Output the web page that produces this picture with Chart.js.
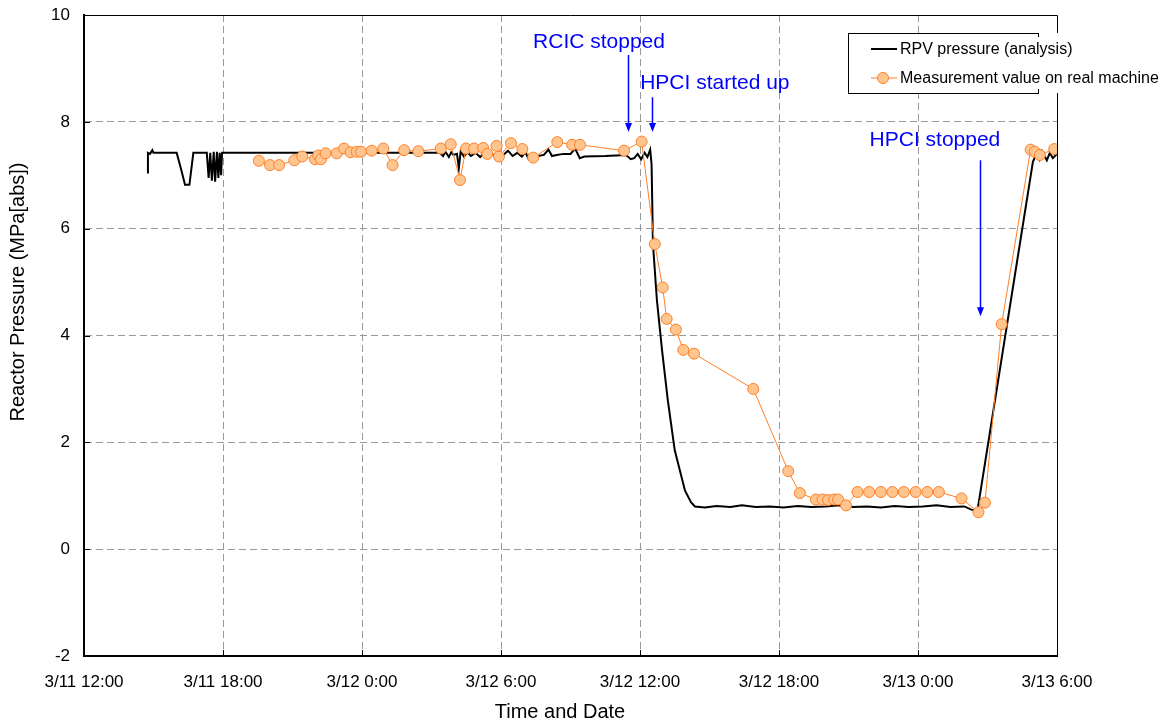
<!DOCTYPE html>
<html lang="en">
  <head>
    <meta charset="UTF-8" />
    <title>Reactor Pressure</title>
    <script src="https://cdn.jsdelivr.net/npm/chart.js"></script>
    <style>
      * {
        margin: 0;
        padding: 0;
        box-sizing: border-box;
      }
      body {
        background: #fff;
        width: 1170px;
        height: 727px;
        overflow: hidden;
      }
    </style>
  </head>
  <body>
    <canvas id="pressureChart" width="1170" height="727"></canvas>

    <script>
      // hours counted from 3/11 12:00
      const tickLabels = ["3/11 12:00", "3/11 18:00", "3/12 0:00", "3/12 6:00", "3/12 12:00", "3/12 18:00", "3/13 0:00", "3/13 6:00"];

      // RPV pressure (analysis)
      const analysisHours = [
        2.72, 2.76, 2.85, 2.95, 3.0, 4.0, 4.2, 4.36, 4.55, 4.72, 5.3, 5.38, 5.45, 5.52, 5.6, 5.66, 5.74, 5.8, 5.86, 5.92, 5.96,
        15.36, 15.5, 15.6, 15.75, 15.85, 15.95, 16.1, 16.18, 16.26, 16.4, 16.55, 16.7, 16.9, 17.1, 17.3, 17.5, 17.7, 17.9,
        18.1, 18.3, 18.5, 18.7, 18.9, 19.05, 19.2, 19.4, 19.6, 19.85, 20.05, 20.2, 20.4, 20.7, 21.0, 21.2, 21.4, 21.6, 22.5,
        23.4, 23.6, 23.75, 23.9, 24.05, 24.2, 24.32, 24.44, 24.5, 24.56, 24.73, 24.95, 25.2, 25.5, 25.94, 26.2, 26.37,
        26.8, 27.3, 27.9, 28.4, 29.0, 29.6, 30.2, 30.8, 31.4, 32.0, 32.6, 33.2, 33.8, 34.4, 35.0, 35.6, 36.2, 36.8, 37.4,
        38.0, 38.3, 38.45, 38.58, 40.96, 41.13, 41.25, 41.35, 41.56, 41.69, 41.82, 42.0, 42.15
      ];
      const analysisValues = [
        7.05, 7.42, 7.4, 7.47, 7.42, 7.42, 7.1, 6.82, 6.82, 7.42, 7.42, 6.95, 7.42, 6.9, 7.44, 6.88, 7.44, 6.95, 7.42, 7.0, 7.42,
        7.42, 7.36, 7.44, 7.34, 7.43, 7.38, 7.4, 7.13, 7.45, 7.35, 7.43, 7.36, 7.42, 7.34, 7.44, 7.4, 7.38, 7.44,
        7.38, 7.46, 7.36, 7.42, 7.35, 7.43, 7.3, 7.33, 7.36, 7.38, 7.48, 7.36, 7.38, 7.4, 7.4, 7.5, 7.32, 7.35, 7.36,
        7.38, 7.3, 7.32, 7.4, 7.3, 7.42, 7.34, 7.48, 7.2, 5.71, 4.66, 3.73, 2.79, 1.85, 1.1, 0.88, 0.8,
        0.78, 0.81, 0.79, 0.82, 0.79, 0.8, 0.78, 0.81, 0.79, 0.8, 0.82, 0.79, 0.8, 0.78, 0.81, 0.79, 0.8, 0.82, 0.79,
        0.8, 0.74, 0.73, 0.76, 7.25, 7.42, 7.3, 7.45, 7.28, 7.42, 7.32, 7.4, 7.28
      ];

      // Measurement value on real machine
      const measuredHours = [
        7.55, 8.03, 8.42, 9.08, 9.42, 9.97, 10.11, 10.23, 10.43, 10.91, 11.23, 11.51, 11.77, 11.96, 12.42, 12.92, 13.32,
        13.82, 14.43, 15.4, 15.83, 16.23, 16.49, 16.84, 17.23, 17.41, 17.81, 17.91, 18.43, 18.92, 19.39, 20.43, 21.07,
        21.41, 23.31, 24.07, 24.64, 24.98, 25.15, 25.55, 25.87, 26.33, 28.89, 30.4, 30.9, 31.59, 31.88, 32.12, 32.38,
        32.55, 32.89, 33.39, 33.89, 34.4, 34.89, 35.39, 35.9, 36.4, 36.9, 37.88, 38.61, 38.89, 39.61, 40.86, 41.04,
        41.26, 41.88
      ];
      const measuredValues = [
        7.27, 7.19, 7.19, 7.28, 7.35, 7.3, 7.37, 7.3, 7.41, 7.41, 7.5, 7.43, 7.44, 7.44, 7.46, 7.5, 7.19,
        7.47, 7.45, 7.5, 7.58, 6.91, 7.5, 7.5, 7.51, 7.4, 7.55, 7.35, 7.6, 7.49, 7.33, 7.62, 7.57,
        7.57, 7.46, 7.63, 5.71, 4.9, 4.31, 4.11, 3.73, 3.66, 3.0, 1.46, 1.05, 0.93, 0.93, 0.92, 0.93,
        0.93, 0.82, 1.07, 1.07, 1.07, 1.07, 1.07, 1.07, 1.07, 1.07, 0.95, 0.69, 0.87, 4.21, 7.48, 7.44,
        7.38, 7.49
      ];

      // event notes: label, text anchor (h, v), arrow start and tip (h, v)
      const notes = [
        { text: "RCIC stopped", x: 22.23, y: 9.49, ax: 23.48, ay0: 9.25, ay1: 7.81 },
        { text: "HPCI started up", x: 27.23, y: 8.73, ax: 24.51, ay0: 8.46, ay1: 7.81 },
        { text: "HPCI stopped", x: 36.73, y: 7.66, ax: 38.67, ay0: 7.28, ay1: 4.36 },
      ];

      const FONT = "'Liberation Sans', Arial, sans-serif";
      const ORANGE = "#FF7F27";
      const PEACH = "#FFC58F";
      const GRID = "#9a9a9a";

      const toPoints = (xs, ys) => xs.map((h, i) => ({ x: h, y: ys[i] }));

      const overlay = {
        id: "overlay",
        afterDraw(chart) {
          const { ctx, chartArea: a, scales } = chart;
          const xs = scales.x;
          const ys = scales.y;
          ctx.save();

          // top and right frame
          ctx.strokeStyle = "#000";
          ctx.lineWidth = 1;
          ctx.beginPath();
          ctx.moveTo(a.left, a.top + 0.5);
          ctx.lineTo(a.right + 0.5, a.top + 0.5);
          ctx.lineTo(a.right + 0.5, a.bottom);
          ctx.stroke();

          // inward tick marks
          ctx.beginPath();
          for (let h = 6; h < 42; h += 6) {
            const px = Math.round(xs.getPixelForValue(h)) + 0.5;
            ctx.moveTo(px, a.bottom);
            ctx.lineTo(px, a.bottom - 6);
          }
          for (let v = 0; v <= 8; v += 2) {
            const py = Math.round(ys.getPixelForValue(v)) + 0.5;
            ctx.moveTo(a.left, py);
            ctx.lineTo(a.left + 6, py);
          }
          ctx.stroke();

          // axis titles
          ctx.fillStyle = "#000";
          ctx.font = "20px " + FONT;
          ctx.textAlign = "center";
          ctx.textBaseline = "middle";
          ctx.fillText("Time and Date", 560, 712);
          ctx.save();
          ctx.translate(18, 292);
          ctx.rotate(-Math.PI / 2);
          ctx.fillText("Reactor Pressure (MPa[abs])", 0, 0);
          ctx.restore();

          // event notes with arrows
          ctx.fillStyle = "#0000FF";
          ctx.strokeStyle = "#0000FF";
          ctx.lineWidth = 1.5;
          ctx.font = "21px " + FONT;
          notes.forEach((n) => {
            ctx.fillText(n.text, xs.getPixelForValue(n.x), ys.getPixelForValue(n.y));
            const ax = Math.round(xs.getPixelForValue(n.ax)) + 0.5;
            const y0 = ys.getPixelForValue(n.ay0);
            const y1 = ys.getPixelForValue(n.ay1);
            ctx.beginPath();
            ctx.moveTo(ax, y0);
            ctx.lineTo(ax, y1 - 8);
            ctx.stroke();
            ctx.beginPath();
            ctx.moveTo(ax - 3.5, y1 - 9);
            ctx.lineTo(ax + 3.5, y1 - 9);
            ctx.lineTo(ax, y1);
            ctx.closePath();
            ctx.fill();
          });

          // legend box
          ctx.fillStyle = "#fff";
          ctx.fillRect(848, 33, 317, 60);
          ctx.strokeStyle = "#000";
          ctx.lineWidth = 1;
          ctx.strokeRect(848.5, 33.5, 190, 60);
          ctx.fillRect(1030, 37, 135, 52);

          ctx.lineWidth = 2;
          ctx.beginPath();
          ctx.moveTo(871, 49);
          ctx.lineTo(897, 49);
          ctx.stroke();

          ctx.strokeStyle = ORANGE;
          ctx.lineWidth = 1;
          ctx.beginPath();
          ctx.moveTo(871, 78);
          ctx.lineTo(897, 78);
          ctx.stroke();
          ctx.beginPath();
          ctx.arc(883, 78, 5.5, 0, Math.PI * 2);
          ctx.fillStyle = PEACH;
          ctx.fill();
          ctx.stroke();

          ctx.fillStyle = "#000";
          ctx.font = "16px " + FONT;
          ctx.textAlign = "left";
          ctx.fillText("RPV pressure (analysis)", 900, 50);
          ctx.fillText("Measurement value on real machine", 900, 79);

          ctx.restore();
        },
      };

      const ctx = document.getElementById("pressureChart").getContext("2d");

      new Chart(ctx, {
        type: "line",
        data: {
          datasets: [
            {
              label: "Measurement value on real machine",
              data: toPoints(measuredHours, measuredValues),
              borderColor: ORANGE,
              backgroundColor: PEACH,
              borderWidth: 1,
              pointRadius: 5.5,
              pointBorderWidth: 1,
              pointBackgroundColor: PEACH,
              pointBorderColor: ORANGE,
              tension: 0,
              order: 0,
            },
            {
              label: "RPV pressure (analysis)",
              data: toPoints(analysisHours, analysisValues),
              borderColor: "#000",
              borderWidth: 2,
              pointRadius: 0,
              tension: 0,
              order: 1,
            },
          ],
        },
        options: {
          responsive: false,
          animation: false,
          layout: { padding: { left: 0, top: 15, right: 113, bottom: 0 } },
          plugins: {
            legend: { display: false },
            tooltip: { enabled: false },
          },
          scales: {
            x: {
              type: "linear",
              min: 0,
              max: 42,
              afterFit(scale) {
                scale.height = 71;
              },
              afterBuildTicks(scale) {
                scale.ticks = tickLabels.map((_, i) => ({ value: i * 6 }));
              },
              ticks: {
                autoSkip: false,
                maxRotation: 0,
                padding: 16,
                color: "#000",
                font: { family: FONT, size: 17 },
                callback: (v) => tickLabels[v / 6],
              },
              grid: {
                drawTicks: false,
                color: (c) => (c.tick && c.tick.value > 0 && c.tick.value < 42 ? GRID : "rgba(0,0,0,0)"),
                lineWidth: 1,
              },
              border: { display: true, color: "#000", width: 2, dash: [7, 4] },
            },
            y: {
              min: -2,
              max: 10,
              afterFit(scale) {
                scale.width = 84;
                scale.paddingTop = 0;
                scale.paddingBottom = 0;
              },
              ticks: {
                stepSize: 2,
                padding: 14,
                color: "#000",
                font: { family: FONT, size: 17 },
              },
              grid: {
                drawTicks: false,
                color: (c) => (c.tick && c.tick.value > -2 && c.tick.value < 10 ? GRID : "rgba(0,0,0,0)"),
                lineWidth: 1,
              },
              border: { display: true, color: "#000", width: 2, dash: [7, 4] },
            },
          },
        },
        plugins: [overlay],
      });
    </script>
  </body>
</html>
